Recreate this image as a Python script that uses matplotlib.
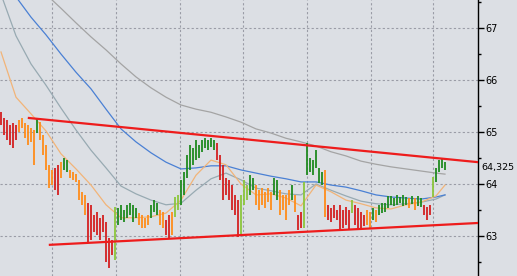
import numpy as np
import matplotlib
matplotlib.use("Agg")
import matplotlib.pyplot as plt

# bar data (one bar per index), prices
highs = [65.38, 65.27, 65.23, 65.13, 65.17, 65.13, 65.23, 65.27, 65.17, 65.13,
         65.08, 65.04, 65.27, 65.19, 64.94, 64.75, 64.37, 64.27, 64.31, 64.37,
         64.42, 64.50, 64.46, 64.27, 64.23, 64.19, 64.08, 63.85, 63.79, 63.63,
         63.60, 63.40, 63.46, 63.35, 63.40, 63.27, 62.96, 62.92, 63.56, 63.54,
         63.60, 63.50, 63.60, 63.63, 63.60, 63.54, 63.44, 63.40, 63.35, 63.40,
         63.60, 63.69, 63.63, 63.50, 63.46, 63.31, 63.40, 63.46, 63.75, 63.79,
         64.08, 64.23, 64.56, 64.75, 64.69, 64.85, 64.75, 64.85, 64.88, 64.85,
         64.88, 64.85, 64.79, 64.56, 64.37, 64.12, 64.08, 63.98, 63.79, 63.69,
         63.79, 64.08, 63.98, 64.17, 64.12, 63.98, 63.88, 63.92, 63.85, 63.92,
         63.85, 64.12, 64.08, 63.88, 63.79, 63.79, 63.88, 63.98, 63.79, 63.40,
         63.46, 64.04, 64.79, 64.50, 64.46, 64.65, 64.31, 64.23, 64.27, 63.60,
         63.54, 63.60, 63.50, 63.60, 63.50, 63.56, 63.50, 63.69, 63.60, 63.54,
         63.46, 63.40, 63.50, 63.46, 63.54, 63.50, 63.60, 63.63, 63.63, 63.77,
         63.77, 63.73, 63.79, 63.75, 63.79, 63.75, 63.73, 63.77, 63.73, 63.77,
         63.73, 63.60, 63.56, 63.60, 64.13, 64.31, 64.46, 64.50, 64.42]
lows = [65.13, 64.94, 64.85, 64.75, 64.69, 64.85, 65.00, 65.08, 64.88, 64.75,
        64.81, 64.37, 64.98, 64.85, 64.56, 64.27, 63.92, 63.98, 63.88, 63.79,
        64.12, 64.27, 64.23, 64.12, 64.08, 64.04, 63.69, 63.60, 63.40, 62.87,
        62.92, 63.08, 63.02, 62.92, 63.08, 62.50, 62.38, 62.63, 62.54, 63.21,
        63.31, 63.27, 63.35, 63.40, 63.27, 63.35, 63.21, 63.15, 63.15, 63.21,
        63.35, 63.46, 63.40, 63.21, 63.15, 63.02, 62.96, 63.02, 63.37, 63.50,
        63.60, 63.79, 64.12, 64.27, 64.37, 64.46, 64.50, 64.62, 64.69, 64.65,
        64.71, 64.65, 64.46, 64.08, 63.69, 63.79, 63.69, 63.50, 63.40, 62.98,
        63.02, 63.60, 63.69, 63.79, 63.88, 63.60, 63.50, 63.60, 63.54, 63.65,
        63.50, 63.79, 63.69, 63.40, 63.50, 63.31, 63.60, 63.69, 63.46, 63.12,
        63.15, 63.15, 64.17, 64.23, 64.17, 64.31, 64.02, 63.98, 63.37, 63.31,
        63.27, 63.35, 63.31, 63.12, 63.15, 63.21, 63.12, 63.44, 63.21, 63.12,
        63.15, 63.19, 63.21, 63.15, 63.31, 63.27, 63.40, 63.44, 63.46, 63.54,
        63.60, 63.58, 63.60, 63.63, 63.58, 63.60, 63.54, 63.62, 63.50, 63.58,
        63.56, 63.40, 63.31, 63.40, 63.75, 64.04, 64.23, 64.31, 64.27]
# r = falling, o = weak, g = rising, l = turning up
states = ("rrrrrr" "oooooo" "g" "ooooo" "rr" "o" "gg" "oooooo" "rrrrrrrrr" "l"
          "ggggggg" "oooo" "ggg" "oo" "rr" "o" "ll" "gggggggggggg" "rrrrrrrr"
          "lll" "gg" "oooooo" "gg" "oooo" "g" "o" "rr" "l" "gggggg" "o"
          "rrrrrrrr" "l" "rrrr" "oo" "g" "o" "gggggggggg" "o" "g" "o" "gg"
          "rrr" "l" "gggg")
last_price = 64.325

# moving averages, read every 5 bars
ma_idx = [0, 5, 10, 15, 20, 25, 30, 35, 40, 45, 50, 55, 60, 65, 70, 75, 80,
          85, 90, 95, 100, 105, 110, 115, 120, 125, 130, 135, 140, 145, 148]
ma_long = [68.50, 68.21, 67.92, 67.65, 67.38, 67.10, 66.83, 66.58, 66.31, 66.06,
           65.85, 65.67, 65.52, 65.44, 65.38, 65.29, 65.19, 65.06, 64.98, 64.88,
           64.81, 64.73, 64.62, 64.54, 64.44, 64.38, 64.33, 64.29, 64.25, 64.21,
           64.19]
ma_blue = [67.96, 67.60, 67.21, 66.87, 66.50, 66.15, 65.83, 65.44, 65.06, 64.81,
           64.60, 64.42, 64.29, 64.31, 64.35, 64.35, 64.27, 64.21, 64.15, 64.10,
           64.04, 64.04, 63.98, 63.94, 63.87, 63.79, 63.75, 63.73, 63.71, 63.75,
           63.79]
ma_mid = [67.65, 66.85, 66.31, 65.90, 65.46, 65.04, 64.65, 64.31, 63.96, 63.81,
          63.69, 63.60, 63.63, 63.88, 64.10, 64.21, 64.08, 63.92, 63.87, 63.81,
          63.79, 64.00, 63.88, 63.77, 63.67, 63.62, 63.60, 63.62, 63.65, 63.71,
          63.79]
ma_short = [66.54, 65.67, 65.35, 65.02, 64.58, 64.29, 63.98, 63.60, 63.35, 63.35,
            63.37, 63.44, 63.69, 64.17, 64.46, 64.37, 64.00, 63.79, 63.81, 63.73,
            63.58, 63.98, 63.85, 63.69, 63.62, 63.54, 63.52, 63.60, 63.65, 63.77,
            63.98]

# trend channel
trend_x = [9.3, 159]
upper_line = [65.27, 64.42]
lower_x = [16.3, 159]
lower_line = [62.83, 63.25]

price_ticks = [63, 64, 65, 66, 67]
time_grid = [17, 38.3, 59.7, 80.7, 102, 123.3, 144]

bg = "#dcdfe4"
state_colors = {"r": "#d42020", "o": "#ff8c1a", "g": "#1f8a1f", "l": "#8cc63c"}

fig = plt.figure(figsize=(5.17, 2.76), dpi=100, facecolor=bg)
ax = fig.add_axes([0, 0, 478 / 517, 1])
ax.set_facecolor(bg)

for y in price_ticks:
    ax.axhline(y, color="#9a9ca6", lw=0.8, ls=(0, (2, 2)), zorder=0)
for x in time_grid:
    ax.axvline(x, color="#9a9ca6", lw=0.8, ls=(0, (2, 2)), zorder=0)

ax.plot(ma_idx, ma_long, color="#a4a4a4", lw=0.9, zorder=1)
ax.plot(ma_idx, ma_mid, color="#98aab2", lw=0.9, zorder=1)
ax.plot(ma_idx, ma_blue, color="#4a80d4", lw=0.9, zorder=1)
ax.plot(ma_idx, ma_short, color="#f2b478", lw=0.9, zorder=1)

idx = np.arange(len(highs))
cols = [state_colors[c] for c in states]
ax.vlines(idx, lows, highs, colors=cols, lw=1.3, zorder=2)

ax.plot(trend_x, upper_line, color="#ee1c1c", lw=1.6, zorder=3)
ax.plot(lower_x, lower_line, color="#ee1c1c", lw=1.6, zorder=3)

ax.set_xlim(-1 / 3, 159)
ax.set_ylim(62.23, 67.54)

for s in ["left", "top", "bottom"]:
    ax.spines[s].set_visible(False)
ax.spines["right"].set_color("black")
ax.spines["right"].set_linewidth(1)

ax.set_xticks([])
ax.yaxis.tick_right()
ax.set_yticks(price_ticks)
ax.set_yticklabels([str(t) for t in price_ticks])
ax.set_yticks(np.arange(62.5, 67.6, 1.0), minor=True)
ax.tick_params(axis="y", which="major", length=4, width=1, pad=1.5, labelsize=7, colors="black")
ax.tick_params(axis="y", which="minor", length=2.5, width=1)

# last price label
ax.text(1 + 3 / 478, last_price, f"{last_price:.3f}".replace(".", ","),
        transform=ax.get_yaxis_transform(), ha="left", va="center",
        fontsize=6.8, color="black", clip_on=False)

fig.savefig("out.png", dpi=100, facecolor=bg)
